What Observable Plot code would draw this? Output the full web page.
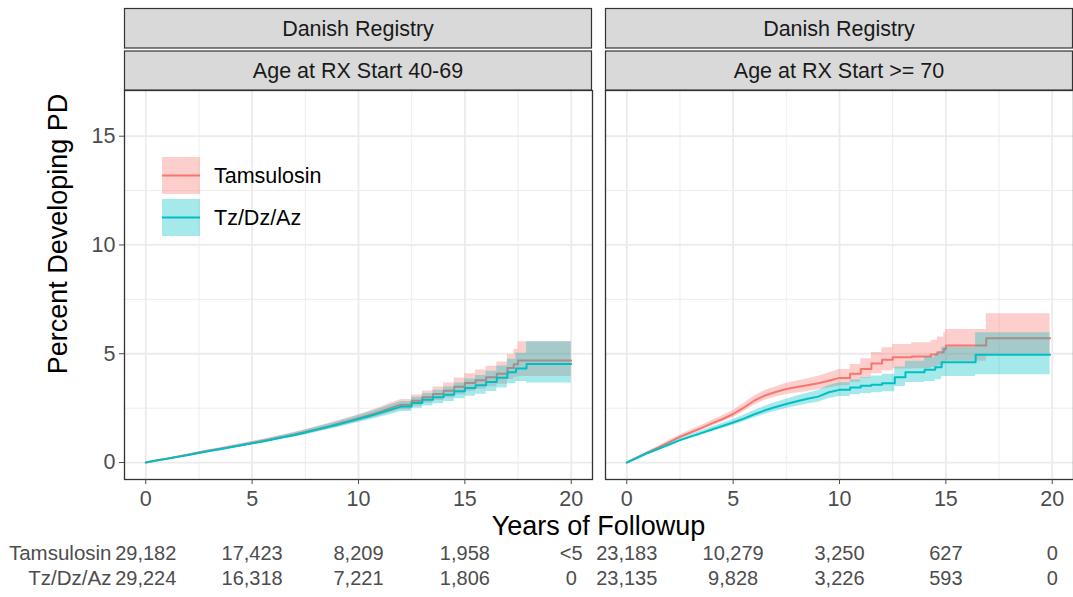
<!DOCTYPE html>
<html><head><meta charset="utf-8">
<script src="https://cdn.jsdelivr.net/npm/d3@7"></script>
<script src="https://cdn.jsdelivr.net/npm/@observablehq/plot@0.6"></script>
<style>
body{margin:0;background:#fff;}
#wrap{position:relative;width:1073px;height:597px;overflow:hidden}
#wrap > svg{display:block}
#overlay{position:absolute;left:0;top:0;pointer-events:none}
</style></head>
<body><div id="wrap"></div>
<script>
// ---------- data ----------
const registry = "Danish Registry";
const panels = ["Age at RX Start 40-69", "Age at RX Start >= 70"];
const groups = ["Tamsulosin", "Tz/Dz/Az"];
const colors = ["#F8766D", "#00BFC4"];

const xTicks = [0, 5, 10, 15, 20];
const xMinor = [2.5, 7.5, 12.5, 17.5];
const yTicks = [0, 5, 10, 15];
const yMinor = [2.5, 7.5, 12.5];

// [years, estimate %, lower CI %, upper CI %]
const age4069Tamsulosin = [
[0,0,0,0],[0.5,0.09,0.08,0.10],[1,0.18,0.16,0.20],[1.5,0.27,0.24,0.30],[2,0.36,0.33,0.39],
[2.5,0.46,0.42,0.50],[3,0.55,0.51,0.60],[3.5,0.63,0.58,0.68],[4,0.72,0.66,0.78],[4.5,0.81,0.75,0.87],
[5,0.90,0.83,0.97],[5.5,0.99,0.92,1.07],[6,1.09,1.01,1.17],[6.5,1.19,1.10,1.28],[7,1.29,1.19,1.39],
[7.5,1.40,1.29,1.51],[8,1.52,1.40,1.64],[8.5,1.64,1.51,1.77],[9,1.77,1.63,1.91],[9.5,1.90,1.75,2.05],
[10,2.04,1.88,2.20],[10.5,2.18,2.01,2.36],[11,2.33,2.14,2.53],[11.5,2.50,2.29,2.72],[12,2.66,2.43,2.90],
[12.5,2.84,2.59,3.10],[13,3.00,2.72,3.29],[13.5,3.15,2.85,3.47],[14,3.30,2.97,3.66],[14.5,3.48,3.12,3.88],
[15,3.65,3.27,4.08],[15.5,3.78,3.37,4.25],[16,3.92,3.48,4.42],[16.5,4.08,3.60,4.62],[17,4.35,3.82,4.95],
[17.3,4.52,3.92,5.20],[17.5,4.69,3.95,5.55],[20,4.69,3.95,5.55]
];
const age4069TzDzAz = [
[0,0,0,0],[0.5,0.09,0.08,0.10],[1,0.17,0.15,0.19],[1.5,0.26,0.23,0.29],[2,0.35,0.32,0.38],
[2.5,0.44,0.40,0.48],[3,0.53,0.49,0.58],[3.5,0.61,0.56,0.66],[4,0.70,0.64,0.76],[4.5,0.79,0.73,0.85],
[5,0.88,0.81,0.95],[5.5,0.97,0.90,1.05],[6,1.07,0.99,1.15],[6.5,1.17,1.08,1.26],[7,1.27,1.17,1.37],
[7.5,1.38,1.27,1.49],[8,1.50,1.38,1.62],[8.5,1.62,1.49,1.75],[9,1.74,1.60,1.88],[9.5,1.87,1.72,2.02],
[10,2.00,1.84,2.16],[10.5,2.13,1.96,2.31],[11,2.27,2.08,2.47],[11.5,2.42,2.21,2.64],[12,2.57,2.34,2.81],
[12.5,2.74,2.49,3.00],[13,2.88,2.60,3.17],[13.5,3.00,2.70,3.32],[14,3.12,2.80,3.47],[14.5,3.28,2.93,3.66],
[15,3.42,3.05,3.84],[15.5,3.55,3.14,4.00],[16,3.70,3.26,4.19],[16.5,3.90,3.42,4.44],[17,4.15,3.62,4.75],
[17.4,4.32,3.72,5.02],[17.9,4.53,3.65,5.55],[20,4.53,3.65,5.55]
];
const age70Tamsulosin = [
[0,0,0,0],[0.5,0.24,0.21,0.27],[1,0.47,0.42,0.52],[1.5,0.70,0.64,0.76],[2,0.94,0.86,1.02],
[2.5,1.18,1.09,1.27],[3,1.38,1.28,1.49],[3.5,1.58,1.47,1.70],[4,1.80,1.67,1.93],[4.5,2.00,1.86,2.15],
[5,2.23,2.07,2.39],[5.5,2.52,2.34,2.71],[6,2.85,2.65,3.06],[6.5,3.08,2.86,3.31],[7,3.24,3.01,3.48],
[7.5,3.38,3.13,3.64],[8,3.47,3.20,3.75],[8.5,3.55,3.27,3.85],[9,3.64,3.34,3.97],[9.5,3.76,3.43,4.12],
[10,3.89,3.53,4.28],[10.5,4.08,3.69,4.51],[11,4.30,3.87,4.77],[11.5,4.55,4.08,5.06],[12,4.72,4.21,5.28],
[12.5,4.84,4.30,5.43],[13.4,4.87,4.31,5.50],[14.3,4.96,4.37,5.62],[14.6,5.07,4.45,5.77],[14.9,5.22,4.56,5.97],
[15,5.38,4.65,6.11],[16.9,5.71,4.98,6.84],[19.9,5.71,4.98,6.84]
];
const age70TzDzAz = [
[0,0,0,0],[0.5,0.22,0.19,0.25],[1,0.44,0.39,0.49],[1.5,0.63,0.57,0.69],[2,0.83,0.76,0.90],
[2.5,1.03,0.95,1.11],[3,1.19,1.10,1.28],[3.5,1.35,1.25,1.45],[4,1.52,1.41,1.63],[4.5,1.68,1.56,1.81],
[5,1.84,1.71,1.98],[5.5,2.02,1.88,2.17],[6,2.22,2.06,2.39],[6.5,2.40,2.22,2.59],[7,2.55,2.36,2.76],
[7.5,2.69,2.48,2.91],[8,2.82,2.59,3.06],[8.5,2.93,2.69,3.19],[9,3.03,2.77,3.31],[9.5,3.23,2.94,3.54],
[10,3.34,3.03,3.67],[10.5,3.45,3.11,3.80],[11,3.53,3.17,3.91],[11.5,3.58,3.21,3.98],[12,3.64,3.25,4.06],
[12.6,3.92,3.49,4.39],[13.1,4.15,3.68,4.66],[14,4.26,3.73,4.84],[14.5,4.38,3.81,5.01],[14.8,4.61,3.95,5.30],
[16.4,4.95,4.04,5.96],[19.9,4.95,4.04,5.96]
];
// year after which each panel's curves are drawn as visible steps (smooth dense steps before)
const stepFrom = [12, 10];

// numbers at risk at riskTimes
const riskTimes = [0, 5, 10, 15, 20];
const risk4069Tamsulosin = ["29,182", "17,423", "8,209", "1,958", "<5"];
const risk4069TzDzAz = ["29,224", "16,318", "7,221", "1,806", "0"];
const risk70Tamsulosin = ["23,183", "10,279", "3,250", "627", "0"];
const risk70TzDzAz = ["23,135", "9,828", "3,226", "593", "0"];

// ---------- build ----------
const series = [
  {panel: 0, group: 0, data: age4069Tamsulosin},
  {panel: 0, group: 1, data: age4069TzDzAz},
  {panel: 1, group: 0, data: age70Tamsulosin},
  {panel: 1, group: 1, data: age70TzDzAz}
];
const rows = series.flatMap(s => s.data.map(([t, est, lo, hi]) => ({
  panel: panels[s.panel], group: groups[s.group], t, est, lo, hi,
  early: t <= stepFrom[s.panel], late: t >= stepFrom[s.panel]
})));
const risk = [
  {panel: panels[0], group: groups[0], vals: risk4069Tamsulosin},
  {panel: panels[0], group: groups[1], vals: risk4069TzDzAz},
  {panel: panels[1], group: groups[0], vals: risk70Tamsulosin},
  {panel: panels[1], group: groups[1], vals: risk70TzDzAz}
].flatMap(r => r.vals.map((n, i) => ({panel: r.panel, group: r.group, t: riskTimes[i], n})));

const FONT = '"Liberation Sans", Arial, Helvetica, sans-serif';
const W = 1073, H = 597, ML = 124, MR = 0, MT = 90, MB = 118, GAP = 13;
const TXT = "#4d4d4d", FS = 21.5, TFS = 20;

const part = (g, key) => rows.filter(d => d.group === g && d[key]);
const ribbon = (g, c) => [
  Plot.areaY(part(g, "early"), {fx: "panel", x: "t", y1: "lo", y2: "hi", fill: c, fillOpacity: 0.35, curve: "linear"}),
  Plot.areaY(part(g, "late"), {fx: "panel", x: "t", y1: "lo", y2: "hi", fill: c, fillOpacity: 0.35, curve: "step-after"})
];
const curve = (g, c) => [
  Plot.line(part(g, "early"), {fx: "panel", x: "t", y: "est", stroke: c, strokeWidth: 2, curve: "linear"}),
  Plot.line(part(g, "late"), {fx: "panel", x: "t", y: "est", stroke: c, strokeWidth: 2, curve: "step-after"})
];
const riskRow = (g, dy) => Plot.text(risk.filter(d => d.group === g), {fx: "panel", x: "t", text: "n", frameAnchor: "bottom", dy, fill: TXT, fontSize: TFS});
const rowLabel = (g, dy) => Plot.text([g], {fx: () => panels[0], x: () => -1, text: d => d, frameAnchor: "bottom", dy, dx: -13, textAnchor: "end", fill: TXT, fontSize: TFS + 0.5});

const chart = Plot.plot({
  width: W, height: H,
  marginLeft: ML, marginRight: MR, marginTop: MT, marginBottom: MB,
  style: {fontFamily: FONT, fontSize: FS + "px", background: "#fff", overflow: "visible"},
  fx: {domain: panels, paddingInner: GAP / ((W - ML - MR + GAP) / 2), paddingOuter: 0, axis: null, label: null},
  x: {domain: [-1, 21], label: null},
  y: {domain: [-0.78, 17.1], label: null},
  marks: [
    Plot.ruleX(xMinor, {stroke: "#ebebeb", strokeWidth: 0.9}),
    Plot.ruleY(yMinor, {stroke: "#ebebeb", strokeWidth: 0.9}),
    Plot.ruleX(xTicks, {stroke: "#ebebeb", strokeWidth: 1.8}),
    Plot.ruleY(yTicks, {stroke: "#ebebeb", strokeWidth: 1.8}),
    ...ribbon(groups[0], colors[0]),
    ...curve(groups[0], colors[0]),
    ...ribbon(groups[1], colors[1]),
    ...curve(groups[1], colors[1]),
    Plot.frame({stroke: "#333", strokeWidth: 1.3}),
    Plot.axisX({ticks: xTicks, tickSize: 5, tickPadding: 6, color: TXT, label: null, fontSize: FS}),
    Plot.axisY({ticks: yTicks, tickSize: 5, tickPadding: 4, color: TXT, label: null, fontSize: FS}),
    riskRow(groups[0], 80),
    riskRow(groups[1], 105),
    rowLabel(groups[0], 80),
    rowLabel(groups[1], 105)
  ]
});
const wrap = document.getElementById("wrap");
wrap.appendChild(chart);

// ---------- overlay: strips, axis titles, legend ----------
const ns = "http://www.w3.org/2000/svg";
const ov = document.createElementNS(ns, "svg");
ov.setAttribute("id", "overlay");
ov.setAttribute("width", W); ov.setAttribute("height", H);
ov.style.fontFamily = FONT;
wrap.appendChild(ov);
function el(tag, attrs, text) {
  const e = document.createElementNS(ns, tag);
  for (const k in attrs) e.setAttribute(k, attrs[k]);
  if (text != null) e.textContent = text;
  ov.appendChild(e);
  return e;
}
const step = (W - ML - MR + GAP) / 2, bw = step - GAP;
panels.forEach((p, i) => {
  const x0 = ML + i * step;
  el("rect", {x: x0 + 0.5, y: 8.5, width: bw - 1, height: 39.5, fill: "#d9d9d9", stroke: "#333", "stroke-width": 1.2});
  el("rect", {x: x0 + 0.5, y: 51, width: bw - 1, height: 39, fill: "#d9d9d9", stroke: "#333", "stroke-width": 1.2});
  el("text", {x: x0 + bw / 2, y: 29, "text-anchor": "middle", "dominant-baseline": "central", "font-size": FS, fill: "#1a1a1a"}, registry);
  el("text", {x: x0 + bw / 2, y: 71, "text-anchor": "middle", "dominant-baseline": "central", "font-size": FS, fill: "#1a1a1a"}, p);
});
el("text", {x: 0, y: 0, transform: "translate(58,234) rotate(-90)", "text-anchor": "middle", "dominant-baseline": "central", "font-size": 27, fill: "#000"}, "Percent Developing PD");
el("text", {x: ML + (W - ML - MR) / 2, y: 526, "text-anchor": "middle", "dominant-baseline": "central", "font-size": 27, fill: "#000"}, "Years of Followup");
groups.forEach((g, i) => {
  const y0 = 157 + i * 42;
  el("rect", {x: 162, y: y0, width: 38, height: 37, fill: colors[i], "fill-opacity": 0.35});
  el("line", {x1: 162, x2: 200, y1: y0 + 18.5, y2: y0 + 18.5, stroke: colors[i], "stroke-width": 2});
  el("text", {x: 214, y: y0 + 19, "dominant-baseline": "central", "font-size": FS, fill: "#000"}, g);
});
</script></body></html>
